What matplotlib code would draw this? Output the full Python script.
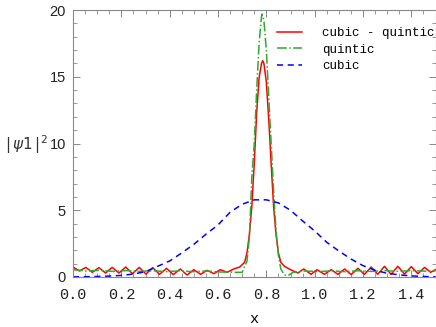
import numpy as np
import matplotlib.pyplot as plt
from matplotlib.ticker import MultipleLocator

# ------- data -------
# |psi1|^2 for the cubic-quintic model (red, solid)
x_cq = [0.000, 0.027, 0.053, 0.080, 0.107, 0.135, 0.162, 0.190, 0.218, 0.246,
        0.274, 0.302, 0.330, 0.358, 0.387, 0.415, 0.444, 0.472, 0.500, 0.528,
        0.555, 0.583, 0.610, 0.638, 0.665, 0.690, 0.710, 0.720, 0.730, 0.740,
        0.750, 0.760, 0.770, 0.780, 0.785, 0.790, 0.800, 0.810, 0.820, 0.830,
        0.840, 0.850, 0.860, 0.875, 0.900, 0.930, 0.955, 0.985, 1.010, 1.040,
        1.069, 1.096, 1.124, 1.151, 1.179, 1.206, 1.234, 1.261, 1.289, 1.316,
        1.344, 1.372, 1.400, 1.427, 1.455, 1.480, 1.500]
y_cq = [0.75, 0.45, 0.72, 0.35, 0.70, 0.30, 0.72, 0.30, 0.75, 0.25,
        0.72, 0.22, 0.70, 0.20, 0.65, 0.18, 0.60, 0.15, 0.55, 0.20,
        0.50, 0.25, 0.55, 0.35, 0.60, 0.75, 1.10, 1.80, 3.20, 5.30,
        8.50, 12.3, 14.9, 16.0, 16.2, 16.0, 14.6, 11.8, 8.50, 5.30,
        3.20, 1.80, 1.10, 0.80, 0.55, 0.30, 0.60, 0.20, 0.55, 0.20,
        0.55, 0.20, 0.60, 0.18, 0.65, 0.20, 0.75, 0.20, 0.80, 0.20,
        0.80, 0.22, 0.78, 0.25, 0.72, 0.35, 0.55]

# quintic model (green, dash-dot)
x_q = [0.000, 0.055, 0.110, 0.165, 0.220, 0.275, 0.330, 0.385, 0.440, 0.495,
       0.550, 0.605, 0.660, 0.700, 0.720, 0.730, 0.740, 0.750, 0.760, 0.770,
       0.780, 0.783, 0.790, 0.800, 0.810, 0.820, 0.830, 0.840, 0.850, 0.860,
       0.875, 0.890, 0.910, 0.960, 1.015, 1.070, 1.125, 1.180, 1.235, 1.290,
       1.345, 1.400, 1.455, 1.500]
y_q = [0.55, 0.45, 0.50, 0.42, 0.48, 0.42, 0.47, 0.40, 0.46, 0.40,
       0.45, 0.38, 0.35, 0.35, 1.20, 3.00, 7.50, 10.0, 14.0, 17.5,
       19.5, 19.7, 19.2, 17.0, 13.5, 10.0, 6.50, 3.50, 1.60, 0.60,
       0.15, 0.10, 0.35, 0.45, 0.40, 0.46, 0.40, 0.47, 0.42, 0.48,
       0.42, 0.48, 0.44, 0.45]

# cubic model (blue, dashed)
x_c = [0.00, 0.05, 0.10, 0.15, 0.20, 0.25, 0.30, 0.35, 0.40, 0.45,
       0.50, 0.55, 0.60, 0.65, 0.70, 0.75, 0.80, 0.85, 0.90, 0.95,
       1.00, 1.05, 1.10, 1.15, 1.20, 1.25, 1.30, 1.35, 1.40, 1.45, 1.50]
y_c = [0.01, 0.02, 0.04, 0.07, 0.12, 0.22, 0.40, 0.80, 1.20, 1.80,
       2.45, 3.20, 3.90, 4.85, 5.45, 5.78, 5.78, 5.55, 5.00, 4.20,
       3.45, 2.60, 1.95, 1.35, 0.85, 0.50, 0.28, 0.16, 0.08, 0.04, 0.02]

x_ticks = [0.0, 0.2, 0.4, 0.6, 0.8, 1.0, 1.2, 1.4]
y_ticks = [0, 5, 10, 15, 20]

mono = 'Liberation Mono'
sans = 'Liberation Sans'
plt.rcParams['mathtext.fontset'] = 'dejavusans'

fig = plt.figure(figsize=(4.36, 3.27), dpi=100)
ax = fig.add_axes([73/436, 1 - 277/327, 362.5/436, 267/327])

ax.plot(x_cq, y_cq, color='red', lw=1.1, label='cubic - quintic')
ax.plot(x_q, y_q, color='#2faa2f', lw=1.1, ls='-.', label='quintic')
ax.plot(x_c, y_c, color='blue', lw=1.1, ls=(0, (4, 3)), label='cubic')

ax.set_xlim(0, 1.5)
ax.set_ylim(0, 20)
ax.xaxis.set_minor_locator(MultipleLocator(0.05))
ax.yaxis.set_minor_locator(MultipleLocator(1))
ax.set_xticks(x_ticks)
ax.set_xticklabels([f'{v:.1f}' for v in x_ticks], family=mono, fontsize=11)
ax.set_yticks(y_ticks)
ax.set_yticklabels([str(v) for v in y_ticks], family=sans, fontsize=10.5)

ax.tick_params(which='both', direction='in', top=True, right=True,
               color='#888888', labelcolor='#222222')
ax.tick_params(which='major', length=5, width=0.7)
ax.tick_params(which='minor', length=3, width=0.6)
ax.tick_params(axis='x', pad=8)
ax.tick_params(axis='y', pad=5)
for s in ax.spines.values():
    s.set_color('#888888')
    s.set_linewidth(0.8)

ax.set_xlabel('x', family=mono, fontsize=11, labelpad=7)
fig.text(5/436, 1 - 145/327, r'$|\,\psi 1\,|^2$', fontsize=11,
         color='#333333', va='center', ha='left')

ax.legend(loc='upper left', frameon=False, prop={'family': mono, 'size': 9},
          handlelength=2.0, handletextpad=1.6, labelspacing=0.35,
          borderpad=0, borderaxespad=0, bbox_to_anchor=(0.563, 0.935))

fig.savefig('out.png', dpi=100)
